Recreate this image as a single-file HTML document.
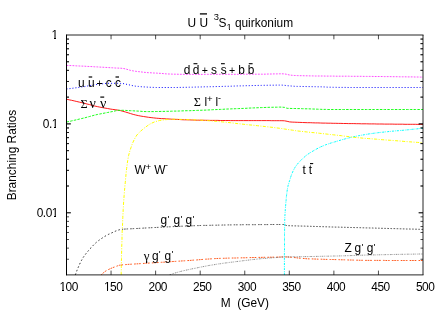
<!DOCTYPE html>
<html><head><meta charset="utf-8"><title>quirkonium branching ratios</title>
<style>
html,body{margin:0;padding:0;background:#fff;}
body{width:443px;height:310px;overflow:hidden;font-family:"Liberation Sans",sans-serif;}
svg{display:block;will-change:transform;}
</style></head><body>
<svg width="443" height="310" viewBox="0 0 443 310">
<defs><clipPath id="pc"><rect x="66.50" y="35.00" width="356.50" height="239.90"/></clipPath></defs>
<rect width="443" height="310" fill="#fff"/>
<g fill="none" clip-path="url(#pc)">
<path d="M66.5 99.2 L69.1 99.8 L71.6 100.3 L74.2 100.9 L76.8 101.5 L79.3 102.1 L81.9 102.7 L84.5 103.3 L87.0 104.0 L89.6 104.6 L92.1 105.3 L94.7 106.0 L97.3 106.6 L99.8 107.1 L102.4 107.6 L105.0 108.1 L107.5 108.5 L110.1 109.0 L112.7 109.4 L115.2 109.7 L117.8 110.1 L120.4 110.6 L122.9 111.3 L125.5 112.0 L128.1 112.8 L130.6 113.6 L133.2 114.4 L135.7 115.0 L138.3 115.6 L140.9 116.1 L143.4 116.5 L146.0 116.9 L148.6 117.3 L151.1 117.6 L153.7 117.9 L156.3 118.2 L158.8 118.4 L161.4 118.6 L164.0 118.7 L166.5 118.9 L169.1 119.0 L171.7 119.2 L174.2 119.3 L176.8 119.4 L179.3 119.5 L181.9 119.7 L184.5 119.8 L187.0 119.8 L189.6 119.9 L192.2 120.0 L194.7 120.1 L197.3 120.2 L199.9 120.2 L202.4 120.2 L205.0 120.3 L207.6 120.3 L210.1 120.4 L212.7 120.4 L215.3 120.4 L217.8 120.4 L220.4 120.5 L222.9 120.5 L225.5 120.5 L228.1 120.5 L230.6 120.6 L233.2 120.6 L235.8 120.6 L238.3 120.6 L240.9 120.6 L243.5 120.6 L246.0 120.6 L248.6 120.6 L251.2 120.6 L253.7 120.6 L256.3 120.6 L258.9 120.6 L261.4 120.6 L264.0 120.6 L266.6 120.6 L269.1 120.6 L271.7 120.7 L274.2 120.7 L276.8 120.7 L279.4 120.7 L281.9 120.7 L284.5 120.8 L287.1 121.3 L289.6 121.9 L292.2 122.1 L294.8 122.2 L297.3 122.3 L299.9 122.4 L302.5 122.5 L305.0 122.6 L307.6 122.7 L310.2 122.7 L312.7 122.8 L315.3 122.9 L317.8 122.9 L320.4 123.0 L323.0 123.1 L325.5 123.1 L328.1 123.2 L330.7 123.2 L333.2 123.3 L335.8 123.3 L338.4 123.4 L340.9 123.4 L343.5 123.5 L346.1 123.5 L348.6 123.6 L351.2 123.6 L353.8 123.6 L356.3 123.7 L358.9 123.7 L361.4 123.8 L364.0 123.8 L366.6 123.8 L369.1 123.9 L371.7 123.9 L374.3 123.9 L376.8 124.0 L379.4 124.0 L382.0 124.0 L384.5 124.1 L387.1 124.1 L389.7 124.1 L392.2 124.1 L394.8 124.2 L397.4 124.2 L399.9 124.2 L402.5 124.2 L405.0 124.3 L407.6 124.3 L410.2 124.3 L412.7 124.3 L415.3 124.3 L417.9 124.4 L420.4 124.4 L423.0 124.4" stroke="#ff0000" stroke-width="0.9"/>
<path d="M66.5 122.0 L69.1 121.5 L71.6 120.9 L74.2 120.3 L76.8 119.7 L79.3 119.1 L81.9 118.5 L84.5 117.9 L87.0 117.2 L89.6 116.5 L92.1 115.8 L94.7 115.1 L97.3 114.5 L99.8 114.0 L102.4 113.5 L105.0 113.0 L107.5 112.5 L110.1 112.0 L112.7 111.5 L115.2 110.9 L117.8 110.4 L120.4 110.3 L122.9 110.3 L125.5 110.4 L128.1 110.6 L130.6 110.7 L133.2 110.8 L135.7 111.0 L138.3 111.1 L140.9 111.3 L143.4 111.5 L146.0 111.6 L148.6 111.6 L151.1 111.6 L153.7 111.6 L156.3 111.5 L158.8 111.5 L161.4 111.4 L164.0 111.4 L166.5 111.3 L169.1 111.3 L171.7 111.2 L174.2 111.1 L176.8 111.1 L179.3 111.0 L181.9 110.9 L184.5 110.8 L187.0 110.7 L189.6 110.7 L192.2 110.6 L194.7 110.5 L197.3 110.4 L199.9 110.3 L202.4 110.2 L205.0 110.1 L207.6 110.0 L210.1 109.9 L212.7 109.7 L215.3 109.6 L217.8 109.5 L220.4 109.4 L222.9 109.3 L225.5 109.1 L228.1 109.0 L230.6 108.9 L233.2 108.8 L235.8 108.7 L238.3 108.6 L240.9 108.5 L243.5 108.4 L246.0 108.3 L248.6 108.1 L251.2 108.0 L253.7 107.9 L256.3 107.8 L258.9 107.7 L261.4 107.6 L264.0 107.5 L266.6 107.4 L269.1 107.3 L271.7 107.3 L274.2 107.2 L276.8 107.2 L279.4 107.1 L281.9 107.1 L284.5 107.4 L287.1 108.3 L289.6 108.4 L292.2 108.5 L294.8 108.5 L297.3 108.6 L299.9 108.6 L302.5 108.7 L305.0 108.8 L307.6 108.8 L310.2 108.9 L312.7 109.0 L315.3 109.1 L317.8 109.2 L320.4 109.3 L323.0 109.4 L325.5 109.4 L328.1 109.5 L330.7 109.5 L333.2 109.5 L335.8 109.5 L338.4 109.5 L340.9 109.5 L343.5 109.5 L346.1 109.5 L348.6 109.5 L351.2 109.5 L353.8 109.5 L356.3 109.5 L358.9 109.5 L361.4 109.5 L364.0 109.5 L366.6 109.5 L369.1 109.5 L371.7 109.5 L374.3 109.5 L376.8 109.5 L379.4 109.5 L382.0 109.5 L384.5 109.5 L387.1 109.5 L389.7 109.5 L392.2 109.5 L394.8 109.5 L397.4 109.5 L399.9 109.5 L402.5 109.5 L405.0 109.5 L407.6 109.5 L410.2 109.5 L412.7 109.5 L415.3 109.5 L417.9 109.5 L420.4 109.5 L423.0 109.5" stroke="#00ff00" stroke-width="0.9" stroke-dasharray="2.5 1.25"/>
<path d="M66.5 89.0 L69.1 88.7 L71.6 88.4 L74.2 88.0 L76.8 87.7 L79.3 87.3 L81.9 86.9 L84.5 86.6 L87.0 86.1 L89.6 85.6 L92.1 85.2 L94.7 84.7 L97.3 84.4 L99.8 84.1 L102.4 83.8 L105.0 83.5 L107.5 83.3 L110.1 83.3 L112.7 83.3 L115.2 83.3 L117.8 83.3 L120.4 83.4 L122.9 83.5 L125.5 84.1 L128.1 84.6 L130.6 85.2 L133.2 85.8 L135.7 86.2 L138.3 86.4 L140.9 86.7 L143.4 86.9 L146.0 87.0 L148.6 87.2 L151.1 87.3 L153.7 87.4 L156.3 87.5 L158.8 87.5 L161.4 87.5 L164.0 87.5 L166.5 87.5 L169.1 87.5 L171.7 87.5 L174.2 87.5 L176.8 87.5 L179.3 87.4 L181.9 87.4 L184.5 87.3 L187.0 87.3 L189.6 87.2 L192.2 87.2 L194.7 87.1 L197.3 87.0 L199.9 87.0 L202.4 86.9 L205.0 86.8 L207.6 86.8 L210.1 86.7 L212.7 86.7 L215.3 86.6 L217.8 86.5 L220.4 86.5 L222.9 86.4 L225.5 86.3 L228.1 86.3 L230.6 86.2 L233.2 86.1 L235.8 86.0 L238.3 85.9 L240.9 85.9 L243.5 85.8 L246.0 85.7 L248.6 85.7 L251.2 85.6 L253.7 85.5 L256.3 85.5 L258.9 85.4 L261.4 85.4 L264.0 85.3 L266.6 85.3 L269.1 85.2 L271.7 85.2 L274.2 85.2 L276.8 85.1 L279.4 85.1 L281.9 85.1 L284.5 85.3 L287.1 85.7 L289.6 85.9 L292.2 86.1 L294.8 86.3 L297.3 86.4 L299.9 86.4 L302.5 86.5 L305.0 86.5 L307.6 86.6 L310.2 86.6 L312.7 86.7 L315.3 86.7 L317.8 86.8 L320.4 86.8 L323.0 86.9 L325.5 87.0 L328.1 87.2 L330.7 87.2 L333.2 87.3 L335.8 87.3 L338.4 87.4 L340.9 87.4 L343.5 87.4 L346.1 87.4 L348.6 87.5 L351.2 87.5 L353.8 87.5 L356.3 87.5 L358.9 87.5 L361.4 87.5 L364.0 87.5 L366.6 87.5 L369.1 87.5 L371.7 87.5 L374.3 87.5 L376.8 87.5 L379.4 87.5 L382.0 87.5 L384.5 87.5 L387.1 87.5 L389.7 87.5 L392.2 87.5 L394.8 87.5 L397.4 87.5 L399.9 87.5 L402.5 87.5 L405.0 87.5 L407.6 87.5 L410.2 87.5 L412.7 87.5 L415.3 87.5 L417.9 87.5 L420.4 87.5 L423.0 87.5" stroke="#0000ff" stroke-width="1.0" stroke-dasharray="1 2"/>
<path d="M66.5 65.4 L69.1 65.5 L71.6 65.6 L74.2 65.7 L76.8 65.9 L79.3 66.0 L81.9 66.1 L84.5 66.2 L87.0 66.4 L89.6 66.5 L92.1 66.6 L94.7 66.8 L97.3 66.9 L99.8 67.1 L102.4 67.2 L105.0 67.4 L107.5 67.5 L110.1 67.7 L112.7 67.8 L115.2 68.0 L117.8 68.1 L120.4 68.2 L122.9 68.4 L125.5 68.9 L128.1 69.7 L130.6 70.4 L133.2 70.9 L135.7 71.3 L138.3 71.6 L140.9 71.9 L143.4 72.2 L146.0 72.5 L148.6 72.7 L151.1 72.8 L153.7 73.0 L156.3 73.1 L158.8 73.3 L161.4 73.4 L164.0 73.7 L166.5 73.9 L169.1 74.0 L171.7 74.1 L174.2 74.2 L176.8 74.2 L179.3 74.3 L181.9 74.3 L184.5 74.4 L187.0 74.4 L189.6 74.4 L192.2 74.4 L194.7 74.4 L197.3 74.4 L199.9 74.4 L202.4 74.4 L205.0 74.3 L207.6 74.3 L210.1 74.3 L212.7 74.3 L215.3 74.3 L217.8 74.3 L220.4 74.3 L222.9 74.3 L225.5 74.3 L228.1 74.3 L230.6 74.3 L233.2 74.3 L235.8 74.3 L238.3 74.3 L240.9 74.3 L243.5 74.2 L246.0 74.2 L248.6 74.2 L251.2 74.2 L253.7 74.2 L256.3 74.2 L258.9 74.2 L261.4 74.2 L264.0 74.2 L266.6 74.1 L269.1 74.0 L271.7 74.0 L274.2 73.9 L276.8 73.9 L279.4 73.8 L281.9 73.8 L284.5 73.9 L287.1 74.4 L289.6 75.0 L292.2 75.3 L294.8 75.5 L297.3 75.6 L299.9 75.7 L302.5 75.7 L305.0 75.8 L307.6 75.8 L310.2 75.9 L312.7 75.9 L315.3 76.0 L317.8 76.0 L320.4 76.0 L323.0 76.0 L325.5 76.1 L328.1 76.1 L330.7 76.1 L333.2 76.1 L335.8 76.2 L338.4 76.2 L340.9 76.2 L343.5 76.2 L346.1 76.2 L348.6 76.2 L351.2 76.3 L353.8 76.3 L356.3 76.3 L358.9 76.3 L361.4 76.3 L364.0 76.4 L366.6 76.4 L369.1 76.4 L371.7 76.4 L374.3 76.5 L376.8 76.5 L379.4 76.5 L382.0 76.5 L384.5 76.6 L387.1 76.6 L389.7 76.6 L392.2 76.7 L394.8 76.7 L397.4 76.7 L399.9 76.8 L402.5 76.8 L405.0 76.8 L407.6 76.9 L410.2 76.9 L412.7 76.9 L415.3 77.0 L417.9 77.0 L420.4 77.1 L423.0 77.1" stroke="#ff00ff" stroke-width="0.7" stroke-dasharray="1.8 1.2"/>
<path d="M284.4 274.9 L284.4 273.3 L284.4 271.8 L284.4 270.2 L284.4 268.7 L284.4 267.1 L284.4 265.6 L284.4 264.0 L284.4 262.5 L284.4 260.9 L284.4 259.4 L284.4 257.8 L284.4 256.3 L284.4 254.7 L284.4 253.2 L284.4 251.6 L284.5 250.1 L284.5 248.5 L284.5 247.0 L284.5 245.4 L284.5 243.9 L284.5 242.3 L284.5 240.8 L284.5 239.2 L284.5 237.7 L284.5 236.1 L284.5 234.6 L284.5 233.0 L284.6 231.5 L284.6 229.9 L284.6 228.4 L284.6 226.8 L284.6 225.2 L284.7 223.7 L284.7 222.1 L284.7 220.6 L284.8 219.0 L284.8 217.5 L284.9 215.9 L285.0 214.4 L285.1 212.8 L285.2 211.3 L285.3 209.7 L285.4 208.2 L285.5 206.7 L285.7 205.1 L285.8 203.6 L285.9 202.0 L286.1 200.5 L286.2 198.9 L286.3 197.4 L286.5 195.8 L286.7 194.3 L286.9 192.7 L287.1 191.2 L287.3 189.7 L287.6 188.1 L287.9 186.6 L288.2 185.1 L288.7 183.6 L289.1 182.1 L289.6 180.7 L290.1 179.2 L290.5 177.7 L291.0 176.2 L291.5 174.7 L292.1 173.3 L292.7 171.9 L293.3 170.5 L294.1 169.1 L294.8 167.7 L295.7 166.4 L296.6 165.2 L297.5 164.0 L298.5 162.8 L299.6 161.6 L300.7 160.5 L301.8 159.4 L302.9 158.3 L304.1 157.3 L305.2 156.3 L306.4 155.3 L307.7 154.4 L308.9 153.5 L310.2 152.7 L311.6 151.9 L312.9 151.1 L314.3 150.3 L315.6 149.5 L317.0 148.8 L318.3 148.0 L319.7 147.3 L321.1 146.7 L322.5 146.1 L324.0 145.5 L325.4 144.9 L326.9 144.4 L328.4 143.9 L329.8 143.4 L331.3 142.9 L332.8 142.5 L334.3 142.0 L335.8 141.6 L337.3 141.1 L338.7 140.7 L340.2 140.3 L341.7 139.8 L343.2 139.4 L344.7 139.0 L346.2 138.6 L347.7 138.2 L349.2 137.8 L350.7 137.4 L352.2 137.1 L353.7 136.7 L355.3 136.4 L356.8 136.1 L358.3 135.8 L359.8 135.5 L361.4 135.2 L362.9 135.0 L364.4 134.7 L365.9 134.4 L367.5 134.2 L369.0 133.9 L370.5 133.7 L372.1 133.5 L373.6 133.3 L375.1 133.1 L376.7 132.9 L378.2 132.7 L379.8 132.5 L381.3 132.3 L382.9 132.2 L384.4 132.0 L385.9 131.8 L387.5 131.7 L389.0 131.5 L390.6 131.4 L392.1 131.2 L393.7 131.1 L395.2 130.9 L396.8 130.8 L398.3 130.7 L399.8 130.5 L401.4 130.4 L402.9 130.3 L404.5 130.1 L406.0 130.0 L407.6 129.8 L409.1 129.7 L410.7 129.5 L412.2 129.3 L413.7 129.2 L415.3 129.0 L416.8 128.9 L418.4 128.7 L419.9 128.5 L421.5 128.4 L423.0 128.2" stroke="#00ffff" stroke-width="1.0" stroke-dasharray="2.2 1.0 0.7 1.0"/>
<path d="M121.2 274.9 L121.2 272.2 L121.3 269.4 L121.3 266.7 L121.4 264.0 L121.4 261.3 L121.5 258.5 L121.5 255.8 L121.6 253.1 L121.7 250.3 L121.7 247.6 L121.8 244.9 L121.9 242.2 L122.0 239.4 L122.0 236.7 L122.1 234.0 L122.2 231.2 L122.3 228.5 L122.5 225.8 L122.6 223.1 L122.7 220.3 L122.8 217.6 L122.9 214.9 L123.1 212.2 L123.2 209.4 L123.4 206.7 L123.5 204.0 L123.7 201.3 L123.9 198.5 L124.1 195.8 L124.3 193.1 L124.5 190.4 L124.8 187.7 L125.0 184.9 L125.3 182.2 L125.5 179.5 L125.8 176.8 L126.0 174.1 L126.3 171.4 L126.6 168.6 L127.0 165.9 L127.3 163.2 L127.7 160.5 L128.2 157.8 L128.7 155.2 L129.4 152.5 L130.2 149.9 L131.1 147.3 L132.0 144.7 L133.0 142.2 L134.2 139.7 L135.5 137.2 L136.9 135.0 L138.7 133.0 L140.7 131.1 L142.8 129.3 L144.9 127.6 L147.1 126.0 L149.4 124.4 L151.8 123.1 L154.3 122.0 L156.9 121.2 L159.6 120.5 L162.2 120.1 L165.0 119.7 L167.7 119.5 L170.4 119.3 L173.1 119.2 L175.9 119.2 L178.6 119.3 L181.3 119.4 L184.0 119.5 L186.8 119.6 L189.5 119.7 L192.2 119.8 L195.0 119.9 L197.7 120.0 L200.4 120.1 L203.1 120.3 L205.9 120.5 L208.6 120.7 L211.3 120.9 L214.0 121.1 L216.7 121.4 L219.5 121.6 L222.2 121.9 L224.9 122.1 L227.6 122.4 L230.3 122.7 L233.0 123.0 L235.7 123.4 L238.4 123.7 L241.2 124.0 L243.9 124.3 L246.6 124.6 L249.3 124.9 L252.0 125.1 L254.7 125.4 L257.4 125.7 L260.2 126.0 L262.9 126.3 L265.6 126.6 L268.3 126.9 L271.0 127.2 L273.7 127.5 L276.4 127.9 L279.1 128.2 L281.8 128.6 L284.5 129.0 L287.2 129.4 L289.9 129.8 L292.6 130.2 L295.3 130.6 L298.0 131.0 L300.7 131.3 L303.4 131.6 L306.2 131.9 L308.9 132.2 L311.6 132.5 L314.3 132.7 L317.0 133.0 L319.7 133.3 L322.5 133.6 L325.2 133.9 L327.9 134.2 L330.6 134.5 L333.3 134.8 L336.0 135.1 L338.7 135.4 L341.4 135.7 L344.1 136.1 L346.9 136.4 L349.6 136.7 L352.3 137.1 L355.0 137.4 L357.7 137.7 L360.4 137.9 L363.1 138.2 L365.9 138.4 L368.6 138.6 L371.3 138.8 L374.0 139.0 L376.7 139.2 L379.5 139.5 L382.2 139.7 L384.9 139.9 L387.6 140.1 L390.3 140.3 L393.1 140.5 L395.8 140.7 L398.5 140.9 L401.2 141.1 L403.9 141.4 L406.7 141.6 L409.4 141.8 L412.1 142.0 L414.8 142.2 L417.6 142.4 L420.3 142.6 L423.0 142.8" stroke="#ffff00" stroke-width="1.0" stroke-dasharray="3.2 1.4 1.0 1.4"/>
<path d="M75.3 274.9 L76.2 272.6 L77.0 270.3 L77.9 268.1 L78.8 266.1 L79.7 264.1 L80.5 262.3 L81.4 260.6 L82.3 259.0 L83.1 257.6 L84.0 256.3 L84.9 255.1 L85.8 253.9 L86.6 252.8 L87.5 251.8 L88.4 250.7 L89.2 249.7 L90.1 248.7 L91.0 247.8 L91.9 246.8 L92.7 245.9 L93.6 245.0 L94.5 244.1 L95.3 243.3 L96.2 242.5 L97.1 241.8 L98.0 241.1 L98.8 240.4 L99.7 239.8 L100.6 239.2 L101.4 238.6 L102.3 238.0 L103.2 237.4 L104.1 236.9 L104.9 236.3 L105.8 235.8 L106.7 235.3 L107.5 234.9 L108.4 234.4 L109.3 234.0 L110.2 233.6 L111.0 233.2 L111.9 232.8 L112.8 232.4 L113.6 232.0 L114.5 231.6 L115.4 231.2 L116.3 230.8 L117.1 230.5 L118.0 230.2 L118.9 229.9 L119.7 229.7 L120.6 229.5 L121.5 229.4 L122.4 229.3 L123.2 229.2" stroke="#000" stroke-width="0.8" stroke-dasharray="1.6 2.2"/>
<path d="M124.1 229.1 L125.0 229.1 L125.8 229.0 L126.7 229.0 L127.6 228.9 L128.5 228.9 L129.3 228.8 L130.2 228.8 L131.1 228.8 L131.9 228.7 L132.8 228.7 L133.7 228.6 L134.6 228.6 L135.4 228.5 L136.3 228.5 L137.2 228.5 L138.0 228.4 L138.9 228.4 L139.8 228.3 L140.7 228.3 L141.5 228.2 L142.4 228.2 L143.3 228.1 L144.1 228.1 L145.0 228.0 L145.9 228.0 L146.8 227.9 L147.6 227.9 L148.5 227.8 L149.4 227.8 L150.2 227.8 L151.1 227.7 L152.0 227.7 L152.9 227.6 L153.7 227.6 L154.6 227.5 L155.5 227.5 L156.3 227.4 L157.2 227.4 L158.1 227.4 L159.0 227.3 L159.8 227.3 L160.7 227.2 L161.6 227.2 L162.4 227.1 L163.3 227.1 L164.2 227.1 L165.1 227.0 L165.9 227.0 L166.8 226.9 L167.7 226.9 L168.5 226.8 L169.4 226.8 L170.3 226.8 L171.2 226.7 L172.0 226.7 L172.9 226.6 L173.8 226.6 L174.6 226.5 L175.5 226.5 L176.4 226.5 L177.3 226.4 L178.1 226.4 L179.0 226.3 L179.9 226.3 L180.7 226.3 L181.6 226.2 L182.5 226.2 L183.4 226.2 L184.2 226.1 L185.1 226.1 L186.0 226.0 L186.8 226.0 L187.7 226.0 L188.6 225.9 L189.5 225.9 L190.3 225.9 L191.2 225.8 L192.1 225.8 L192.9 225.8 L193.8 225.7 L194.7 225.7 L195.6 225.7 L196.4 225.7 L197.3 225.6 L198.2 225.6 L199.0 225.6 L199.9 225.5 L200.8 225.5 L201.7 225.5 L202.5 225.5 L203.4 225.4 L204.3 225.4 L205.1 225.4 L206.0 225.4 L206.9 225.4 L207.8 225.3 L208.6 225.3 L209.5 225.3 L210.4 225.3 L211.2 225.3 L212.1 225.2 L213.0 225.2 L213.9 225.2 L214.7 225.2 L215.6 225.2 L216.5 225.2 L217.3 225.2 L218.2 225.1 L219.1 225.1 L220.0 225.1 L220.8 225.1 L221.7 225.1 L222.6 225.0 L223.4 225.0 L224.3 225.0 L225.2 225.0 L226.1 225.0 L226.9 225.0 L227.8 224.9 L228.7 224.9 L229.5 224.9 L230.4 224.9 L231.3 224.9 L232.2 224.9 L233.0 224.8 L233.9 224.8 L234.8 224.8 L235.6 224.8 L236.5 224.8 L237.4 224.8 L238.3 224.8 L239.1 224.8 L240.0 224.8 L240.9 224.8 L241.7 224.8 L242.6 224.7 L243.5 224.7 L244.4 224.7 L245.2 224.7 L246.1 224.7 L247.0 224.7 L247.8 224.7 L248.7 224.7 L249.6 224.7 L250.5 224.7 L251.3 224.7 L252.2 224.7 L253.1 224.7 L253.9 224.7 L254.8 224.7 L255.7 224.7 L256.6 224.7 L257.4 224.6 L258.3 224.6 L259.2 224.6 L260.0 224.6 L260.9 224.6 L261.8 224.6 L262.7 224.6 L263.5 224.6 L264.4 224.6 L265.3 224.6 L266.1 224.6 L267.0 224.6 L267.9 224.6 L268.8 224.6 L269.6 224.6 L270.5 224.5 L271.4 224.5 L272.2 224.5 L273.1 224.5 L274.0 224.5 L274.9 224.5 L275.7 224.5 L276.6 224.5 L277.5 224.5 L278.3 224.5 L279.2 224.5 L280.1 224.5 L281.0 224.5 L281.8 224.5 L282.7 224.5 L283.6 224.5 L284.4 224.7" stroke="#000" stroke-width="0.7" stroke-dasharray="1.6 0.8 1.6 2.1"/>
<path d="M285.3 225.1 L286.2 225.4 L287.1 225.6 L287.9 225.7 L288.8 225.7 L289.7 225.7 L290.5 225.8 L291.4 225.8 L292.3 225.8 L293.2 225.9 L294.0 225.9 L294.9 225.9 L295.8 225.9 L296.6 225.9 L297.5 225.9 L298.4 226.0 L299.3 226.0 L300.1 226.0 L301.0 226.0 L301.9 226.1 L302.7 226.1 L303.6 226.1 L304.5 226.1 L305.4 226.2 L306.2 226.2 L307.1 226.2 L308.0 226.2 L308.8 226.3 L309.7 226.3 L310.6 226.3 L311.5 226.4 L312.3 226.4 L313.2 226.4 L314.1 226.4 L314.9 226.5 L315.8 226.5 L316.7 226.5 L317.6 226.5 L318.4 226.6 L319.3 226.6 L320.2 226.6 L321.0 226.6 L321.9 226.7 L322.8 226.7 L323.7 226.7 L324.5 226.8 L325.4 226.8 L326.3 226.8 L327.1 226.8 L328.0 226.9 L328.9 226.9 L329.8 226.9 L330.6 226.9 L331.5 227.0 L332.4 227.0 L333.2 227.0 L334.1 227.0 L335.0 227.1 L335.9 227.1 L336.7 227.1 L337.6 227.1 L338.5 227.1 L339.3 227.2 L340.2 227.2 L341.1 227.2 L342.0 227.2 L342.8 227.3 L343.7 227.3 L344.6 227.3 L345.4 227.3 L346.3 227.4 L347.2 227.4 L348.1 227.4 L348.9 227.4 L349.8 227.4 L350.7 227.5 L351.5 227.5 L352.4 227.5 L353.3 227.5 L354.2 227.6 L355.0 227.6 L355.9 227.6 L356.8 227.6 L357.6 227.6 L358.5 227.7 L359.4 227.7 L360.3 227.7 L361.1 227.7 L362.0 227.8 L362.9 227.8 L363.7 227.8 L364.6 227.8 L365.5 227.9 L366.4 227.9 L367.2 227.9 L368.1 227.9 L369.0 227.9 L369.8 228.0 L370.7 228.0 L371.6 228.0 L372.5 228.0 L373.3 228.1 L374.2 228.1 L375.1 228.1 L375.9 228.1 L376.8 228.2 L377.7 228.2 L378.6 228.2 L379.4 228.2 L380.3 228.3 L381.2 228.3 L382.0 228.3 L382.9 228.3 L383.8 228.3 L384.7 228.4 L385.5 228.4 L386.4 228.4 L387.3 228.4 L388.1 228.5 L389.0 228.5 L389.9 228.5 L390.8 228.5 L391.6 228.6 L392.5 228.6 L393.4 228.6 L394.2 228.6 L395.1 228.6 L396.0 228.7 L396.9 228.7 L397.7 228.7 L398.6 228.7 L399.5 228.8 L400.3 228.8 L401.2 228.8 L402.1 228.8 L403.0 228.9 L403.8 228.9 L404.7 228.9 L405.6 228.9 L406.4 229.0 L407.3 229.0 L408.2 229.0 L409.1 229.0 L409.9 229.0 L410.8 229.1 L411.7 229.1 L412.5 229.1 L413.4 229.1 L414.3 229.2 L415.2 229.2 L416.0 229.2 L416.9 229.2 L417.8 229.3 L418.6 229.3 L419.5 229.3 L420.4 229.3 L421.3 229.4 L422.1 229.4 L423.0 229.4" stroke="#000" stroke-width="0.7" stroke-dasharray="1.6 1.5"/>
<path d="M101.2 274.9 L103.5 272.7 L105.8 271.0 L108.1 269.7 L110.5 268.6 L112.8 267.6 L115.1 266.8 L117.4 265.9 L119.7 265.2 L122.0 264.9 L124.4 264.7 L126.7 264.5 L129.0 264.3 L131.3 264.2 L133.6 264.1 L135.9 263.9 L138.2 263.8 L140.6 263.6 L142.9 263.5 L145.2 263.3 L147.5 263.2 L149.8 263.0 L152.1 262.9 L154.4 262.8 L156.8 262.6 L159.1 262.5 L161.4 262.3 L163.7 262.2 L166.0 262.0 L168.3 261.9 L170.7 261.7 L173.0 261.5 L175.3 261.4 L177.6 261.2 L179.9 261.1 L182.2 260.9 L184.5 260.8 L186.9 260.6 L189.2 260.5 L191.5 260.3 L193.8 260.1 L196.1 260.0 L198.4 259.8 L200.7 259.6 L203.1 259.4 L205.4 259.2 L207.7 259.1 L210.0 258.9 L212.3 258.8 L214.6 258.6 L217.0 258.5 L219.3 258.4 L221.6 258.3 L223.9 258.3 L226.2 258.2 L228.5 258.1 L230.8 258.1 L233.2 258.0 L235.5 258.0 L237.8 257.9 L240.1 257.9 L242.4 257.8 L244.7 257.8 L247.1 257.7 L249.4 257.6 L251.7 257.6 L254.0 257.5 L256.3 257.5 L258.6 257.4 L260.9 257.4 L263.3 257.3 L265.6 257.3 L267.9 257.3 L270.2 257.2 L272.5 257.2 L274.8 257.1 L277.1 257.1 L279.5 257.0 L281.8 256.9 L284.1 256.9 L286.4 256.9 L288.7 257.1 L291.0 257.2 L293.4 257.5 L295.7 257.7 L298.0 258.0 L300.3 258.2 L302.6 258.4 L304.9 258.6 L307.2 258.8 L309.6 258.9 L311.9 258.9 L314.2 259.0 L316.5 259.1 L318.8 259.2 L321.1 259.2 L323.5 259.3 L325.8 259.4 L328.1 259.4 L330.4 259.5 L332.7 259.5 L335.0 259.6 L337.3 259.6 L339.7 259.7 L342.0 259.8 L344.3 259.8 L346.6 259.9 L348.9 260.0 L351.2 260.0 L353.5 260.1 L355.9 260.2 L358.2 260.2 L360.5 260.3 L362.8 260.3 L365.1 260.4 L367.4 260.4 L369.8 260.4 L372.1 260.4 L374.4 260.4 L376.7 260.4 L379.0 260.4 L381.3 260.4 L383.6 260.4 L386.0 260.5 L388.3 260.5 L390.6 260.5 L392.9 260.5 L395.2 260.5 L397.5 260.5 L399.8 260.5 L402.2 260.5 L404.5 260.5 L406.8 260.5 L409.1 260.5 L411.4 260.5 L413.7 260.5 L416.1 260.5 L418.4 260.5 L420.7 260.5 L423.0 260.5" stroke="#ff4500" stroke-width="0.9" stroke-dasharray="1.7 0.8 1.7 0.8 1.7 2.2"/>
<path d="M169.5 274.9 L171.3 274.3 L173.1 273.6 L175.0 273.0 L176.8 272.5 L178.6 272.0 L180.4 271.5 L182.3 271.0 L184.1 270.6 L185.9 270.2 L187.7 269.8 L189.6 269.4 L191.4 269.0 L193.2 268.6 L195.0 268.3 L196.9 267.9 L198.7 267.5 L200.5 267.1 L202.3 266.8 L204.2 266.4 L206.0 266.1 L207.8 265.7 L209.6 265.4 L211.4 265.1 L213.3 264.8 L215.1 264.5 L216.9 264.2 L218.7 263.9 L220.6 263.7 L222.4 263.4 L224.2 263.1 L226.0 262.9 L227.9 262.7 L229.7 262.4 L231.5 262.2 L233.3 262.0 L235.2 261.7 L237.0 261.5 L238.8 261.3 L240.6 261.1 L242.4 260.8 L244.3 260.6 L246.1 260.4 L247.9 260.2 L249.7 259.9 L251.6 259.7 L253.4 259.5 L255.2 259.3 L257.0 259.1 L258.9 258.9 L260.7 258.7 L262.5 258.6 L264.3 258.4 L266.2 258.3 L268.0 258.1 L269.8 258.0 L271.6 257.8 L273.5 257.7 L275.3 257.6 L277.1 257.5 L278.9 257.3 L280.7 257.2 L282.6 257.1 L284.4 257.0 L286.2 257.0 L288.0 256.9 L289.9 256.9 L291.7 256.8 L293.5 256.8 L295.3 256.8 L297.2 256.8 L299.0 256.7 L300.8 256.7 L302.6 256.7 L304.5 256.6 L306.3 256.6 L308.1 256.6 L309.9 256.5 L311.8 256.5 L313.6 256.5 L315.4 256.4 L317.2 256.4 L319.0 256.4 L320.9 256.3 L322.7 256.3 L324.5 256.2 L326.3 256.2 L328.2 256.2 L330.0 256.1 L331.8 256.1 L333.6 256.0 L335.5 256.0 L337.3 256.0 L339.1 255.9 L340.9 255.9 L342.8 255.8 L344.6 255.8 L346.4 255.7 L348.2 255.7 L350.1 255.6 L351.9 255.5 L353.7 255.5 L355.5 255.4 L357.3 255.4 L359.2 255.3 L361.0 255.2 L362.8 255.2 L364.6 255.1 L366.5 255.1 L368.3 255.0 L370.1 255.0 L371.9 255.0 L373.8 254.9 L375.6 254.9 L377.4 254.8 L379.2 254.8 L381.1 254.7 L382.9 254.7 L384.7 254.7 L386.5 254.6 L388.3 254.6 L390.2 254.6 L392.0 254.5 L393.8 254.5 L395.6 254.4 L397.5 254.4 L399.3 254.4 L401.1 254.3 L402.9 254.3 L404.8 254.3 L406.6 254.2 L408.4 254.2 L410.2 254.2 L412.1 254.2 L413.9 254.1 L415.7 254.1 L417.5 254.1 L419.4 254.0 L421.2 254.0 L423.0 254.0" stroke="#606060" stroke-width="0.7" stroke-dasharray="1.6 0.9 0.7 0.9 0.7 0.9"/>
</g>
<g stroke="#000" stroke-width="1" fill="none">
<path d="M66.50 34.50 V275.40"/>
</g>
<g stroke="#000" stroke-width="1" fill="none" opacity="0.85">
<path d="M66.50 35.00 H423.50 M66.50 274.90 H423.50 M423.00 35.00 V274.90"/>
</g>
<path d="M66.50 123.89 h4.30 M423.00 123.89 h-4.30 M66.50 97.13 h2.50 M423.00 97.13 h-2.50 M66.50 81.48 h2.50 M423.00 81.48 h-2.50 M66.50 70.37 h2.50 M423.00 70.37 h-2.50 M66.50 61.76 h2.50 M423.00 61.76 h-2.50 M66.50 54.72 h2.50 M423.00 54.72 h-2.50 M66.50 48.77 h2.50 M423.00 48.77 h-2.50 M66.50 43.61 h2.50 M423.00 43.61 h-2.50 M66.50 39.07 h2.50 M423.00 39.07 h-2.50 M66.50 212.77 h4.30 M423.00 212.77 h-4.30 M66.50 186.01 h2.50 M423.00 186.01 h-2.50 M66.50 170.36 h2.50 M423.00 170.36 h-2.50 M66.50 159.26 h2.50 M423.00 159.26 h-2.50 M66.50 150.64 h2.50 M423.00 150.64 h-2.50 M66.50 143.60 h2.50 M423.00 143.60 h-2.50 M66.50 137.65 h2.50 M423.00 137.65 h-2.50 M66.50 132.50 h2.50 M423.00 132.50 h-2.50 M66.50 127.95 h2.50 M423.00 127.95 h-2.50 M66.50 39.07 h2.50 M423.00 39.07 h-2.50 M66.50 43.61 h2.50 M423.00 43.61 h-2.50 M66.50 48.77 h2.50 M423.00 48.77 h-2.50 M66.50 54.72 h2.50 M423.00 54.72 h-2.50 M66.50 61.76 h2.50 M423.00 61.76 h-2.50 M66.50 70.37 h2.50 M423.00 70.37 h-2.50 M66.50 81.48 h2.50 M423.00 81.48 h-2.50 M66.50 97.13 h2.50 M423.00 97.13 h-2.50 M66.50 127.95 h2.50 M423.00 127.95 h-2.50 M66.50 132.50 h2.50 M423.00 132.50 h-2.50 M66.50 137.65 h2.50 M423.00 137.65 h-2.50 M66.50 143.60 h2.50 M423.00 143.60 h-2.50 M66.50 150.64 h2.50 M423.00 150.64 h-2.50 M66.50 159.26 h2.50 M423.00 159.26 h-2.50 M66.50 170.36 h2.50 M423.00 170.36 h-2.50 M66.50 186.01 h2.50 M423.00 186.01 h-2.50 M66.50 216.84 h2.50 M423.00 216.84 h-2.50 M66.50 221.39 h2.50 M423.00 221.39 h-2.50 M66.50 226.54 h2.50 M423.00 226.54 h-2.50 M66.50 232.49 h2.50 M423.00 232.49 h-2.50 M66.50 239.53 h2.50 M423.00 239.53 h-2.50 M66.50 248.14 h2.50 M423.00 248.14 h-2.50 M66.50 259.25 h2.50 M423.00 259.25 h-2.50 M66.50 123.89 h4.30 M423.00 123.89 h-4.30 M66.50 212.77 h4.30 M423.00 212.77 h-4.30 M111.06 274.90 v-4.30 M111.06 35.00 v4.30 M155.62 274.90 v-4.30 M155.62 35.00 v4.30 M200.19 274.90 v-4.30 M200.19 35.00 v4.30 M244.75 274.90 v-4.30 M244.75 35.00 v4.30 M289.31 274.90 v-4.30 M289.31 35.00 v4.30 M333.88 274.90 v-4.30 M333.88 35.00 v4.30 M378.44 274.90 v-4.30 M378.44 35.00 v4.30" stroke="#000" stroke-width="0.7" fill="none"/>
<g font-family="Liberation Sans, sans-serif" font-size="11.9" fill="#000">
<text x="68.60" y="290.6" text-anchor="middle" letter-spacing="-0.5">100</text>
<text x="113.16" y="290.6" text-anchor="middle" letter-spacing="-0.5">150</text>
<text x="157.72" y="290.6" text-anchor="middle" letter-spacing="-0.5">200</text>
<text x="202.29" y="290.6" text-anchor="middle" letter-spacing="-0.5">250</text>
<text x="246.85" y="290.6" text-anchor="middle" letter-spacing="-0.5">300</text>
<text x="291.41" y="290.6" text-anchor="middle" letter-spacing="-0.5">350</text>
<text x="335.98" y="290.6" text-anchor="middle" letter-spacing="-0.5">400</text>
<text x="380.54" y="290.6" text-anchor="middle" letter-spacing="-0.5">450</text>
<text x="425.10" y="290.6" text-anchor="middle" letter-spacing="-0.5">500</text>
<text x="58.2" y="39.2" text-anchor="end">1</text>
<text x="57.9" y="128.19" text-anchor="end" letter-spacing="-0.5">0.1</text>
<text x="57.9" y="217.07" text-anchor="end" letter-spacing="-0.5">0.01</text>
<text x="244.8" y="307.2" text-anchor="middle" xml:space="preserve">M  (GeV)</text>
<text transform="translate(16.2 155) rotate(-90)" text-anchor="middle">Branching Ratios</text>
<text><tspan x="187.6" y="26.9">U</tspan> <tspan x="199.4" y="26.9">U</tspan> <tspan x="213.8" y="19.9" font-size="9.4">3</tspan><tspan x="218.4" y="26.9">S</tspan><tspan x="226.5" y="29.7" font-size="9.4">1</tspan> <tspan x="234.9" y="26.9">quirkonium</tspan></text>
<text><tspan x="78.1" y="87.1">u</tspan> <tspan x="88.0" y="87.1">u</tspan> <tspan x="96.6" y="87.4" font-size="10.6">+</tspan> <tspan x="105.8" y="87.1">c</tspan> <tspan x="114.9" y="87.1">c</tspan></text>
<text><tspan x="80.6" y="107.8" font-family="Liberation Serif, serif" font-size="12.3">Σ</tspan> <tspan x="89.6" y="107.8" font-family="Liberation Serif, serif" font-size="14">ν</tspan> <tspan x="99.9" y="107.8" font-family="Liberation Serif, serif" font-size="14">ν</tspan></text>
<text><tspan x="183.7" y="73.9">d</tspan> <tspan x="192.8" y="73.9">d</tspan> <tspan x="201.8" y="74.2" font-size="10.6">+</tspan> <tspan x="211.1" y="73.9">s</tspan> <tspan x="220.7" y="73.9">s</tspan> <tspan x="229.0" y="74.2" font-size="10.6">+</tspan> <tspan x="238.2" y="73.9">b</tspan> <tspan x="247.7" y="73.9">b</tspan></text>
<text><tspan x="193.8" y="105.8" font-family="Liberation Serif, serif" font-size="12.3">Σ</tspan> <tspan x="204.6" y="105.8">l</tspan> <tspan x="206.9" y="102.2" font-size="9.6">+</tspan> <tspan x="215.5" y="105.8">l</tspan> <tspan x="218.0" y="100.7" font-size="9">-</tspan></text>
<text><tspan x="134.6" y="174.2">W</tspan> <tspan x="145.4" y="170.3" font-size="9.6">+</tspan> <tspan x="154.3" y="174.2">W</tspan> <tspan x="165.0" y="167.9" font-size="9">-</tspan></text>
<text><tspan x="302.4" y="174.2">t</tspan> <tspan x="308.8" y="174.2">t</tspan></text>
<text><tspan x="160.6" y="224.3">g</tspan> <tspan x="167.5" y="221.6" font-size="9.5">'</tspan> <tspan x="173.5" y="224.3">g</tspan> <tspan x="180.4" y="221.6" font-size="9.5">'</tspan> <tspan x="185.6" y="224.3">g</tspan> <tspan x="192.5" y="221.6" font-size="9.5">'</tspan></text>
<text><tspan x="143.8" y="259.9" font-family="Liberation Serif, serif" font-size="13">γ</tspan> <tspan x="151.9" y="259.9">g</tspan> <tspan x="158.8" y="257.2" font-size="9.5">'</tspan> <tspan x="164.5" y="259.9">g</tspan> <tspan x="171.4" y="257.2" font-size="9.5">'</tspan></text>
<text><tspan x="344.5" y="252.2">Z</tspan> <tspan x="354.5" y="252.2">g</tspan> <tspan x="361.4" y="249.5" font-size="9.5">'</tspan> <tspan x="366.7" y="252.2">g</tspan> <tspan x="373.6" y="249.5" font-size="9.5">'</tspan></text>
</g>
<path d="M51.5 38h2.5v1.05h-2.5z M56 38h2.5v1.05h-2.5z M52 127h2v1.05h-2z M56 127h2.5v1.05h-2.5z M52 216h2v1.05h-2z M56 216h2.5v1.05h-2.5z M59.5 290h2.5v1.05h-2.5z M64 290h2v1.05h-2z M104 290h3v1.05h-3z M108 290h2.2v1.05h-2.2z M226 29h3v1.05h-3z M230 29h2.5v1.05h-2.5z" fill="#fff"/>
<path d="M199.90 13.90 H207.00" stroke="#000" stroke-width="1.3"/>
<path d="M88.70 77.00 H92.20" stroke="#000" stroke-width="1.2"/>
<path d="M115.50 77.00 H119.00" stroke="#000" stroke-width="1.2"/>
<path d="M100.30 97.10 H104.20" stroke="#000" stroke-width="1.2"/>
<path d="M193.50 63.70 H197.40" stroke="#000" stroke-width="1.1"/>
<path d="M221.00 63.70 H224.80" stroke="#000" stroke-width="1.1"/>
<path d="M248.80 63.70 H252.60" stroke="#000" stroke-width="1.1"/>
<path d="M310.00 163.60 H313.20" stroke="#000" stroke-width="1.1"/>
</svg>
</body></html>
